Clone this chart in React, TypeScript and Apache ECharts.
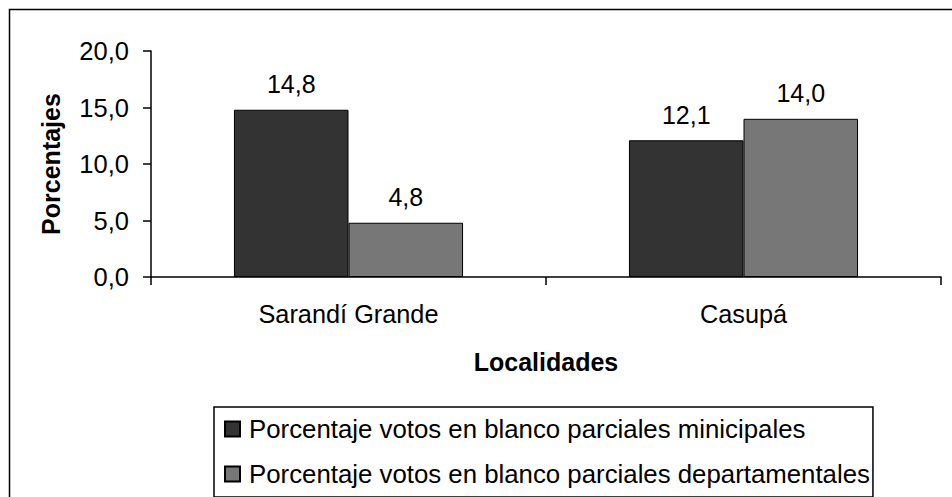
import React, { useEffect, useRef } from "react";
import * as echarts from "echarts";

const categories = ["Sarandí Grande", "Casupá"];
const seriesNames = [
  "Porcentaje votos en blanco parciales minicipales",
  "Porcentaje votos en blanco parciales departamentales",
];
const municipales = [14.8, 12.1];
const departamentales = [4.8, 14.0];
const yTicks = { min: 0, max: 20, interval: 5 };
const colors = ["#333333", "#777777"];

const FONT = "'Liberation Sans', Arial, sans-serif";
const fmt = (v: number) => v.toFixed(1).replace(".", ",");

export default function App() {
  const ref = useRef<HTMLDivElement>(null);
  useEffect(() => {
    if (!ref.current) return;
    const chart = echarts.init(ref.current, null, { renderer: "svg" });
    const label = {
      show: true,
      position: "top",
      distance: 13,
      formatter: (p: any) => fmt(p.value),
      color: "#000",
      fontSize: 25,
      lineHeight: 25,
      fontFamily: FONT,
    };
    chart.setOption({
      animation: false,
      backgroundColor: "#ffffff",
      textStyle: { fontFamily: FONT },
      graphic: [
        {
          type: "rect",
          silent: true,
          z: -10,
          shape: { x: 9.5, y: 9.5, width: 2000, height: 2000 },
          style: { fill: "none", stroke: "#000", lineWidth: 1.5 },
        },
      ],
      grid: { left: 151, top: 51, right: 11, bottom: 220 },
      legend: {
        orient: "vertical",
        left: 214,
        top: 407,
        padding: [9, 3, 10, 10],
        itemGap: 19,
        itemWidth: 15,
        itemHeight: 15,
        icon: "rect",
        borderColor: "#000",
        borderWidth: 1.5,
        textStyle: {
          fontSize: 25.8,
          lineHeight: 26,
          color: "#000",
          fontFamily: FONT,
          padding: [0, 0, 0, 4],
        },
        data: seriesNames,
      },
      xAxis: {
        type: "category",
        data: categories,
        name: "Localidades",
        nameLocation: "middle",
        nameGap: 72,
        nameTextStyle: {
          fontSize: 25,
          fontWeight: "bold",
          color: "#000",
          fontFamily: FONT,
        },
        axisLine: { lineStyle: { color: "#000", width: 1.5 } },
        axisTick: { show: true, length: 8, lineStyle: { color: "#000", width: 1.5 } },
        axisLabel: { margin: 24, fontSize: 25.3, color: "#000", fontFamily: FONT },
      },
      yAxis: {
        type: "value",
        min: yTicks.min,
        max: yTicks.max,
        interval: yTicks.interval,
        name: "Porcentajes",
        nameLocation: "middle",
        nameRotate: 90,
        nameGap: 88,
        nameTextStyle: {
          fontSize: 25,
          fontWeight: "bold",
          color: "#000",
          fontFamily: FONT,
        },
        axisLine: { show: true, lineStyle: { color: "#000", width: 1.5 } },
        axisTick: { show: true, length: 8, lineStyle: { color: "#000", width: 1.5 } },
        splitLine: { show: false },
        axisLabel: {
          margin: 22,
          fontSize: 25.5,
          color: "#000",
          fontFamily: FONT,
          formatter: (v: number) => fmt(v),
        },
      },
      series: [
        {
          name: seriesNames[0],
          type: "bar",
          data: municipales,
          barGap: "0%",
          barCategoryGap: "42%",
          itemStyle: { color: colors[0], borderColor: "#000", borderWidth: 1 },
          label,
        },
        {
          name: seriesNames[1],
          type: "bar",
          data: departamentales,
          barGap: "0%",
          barCategoryGap: "42%",
          itemStyle: { color: colors[1], borderColor: "#000", borderWidth: 1 },
          label,
        },
      ],
    });
    return () => chart.dispose();
  }, []);
  return (
    <div
      ref={ref}
      style={{ position: "fixed", left: 0, top: 0, width: 952, height: 497 }}
    />
  );
}
